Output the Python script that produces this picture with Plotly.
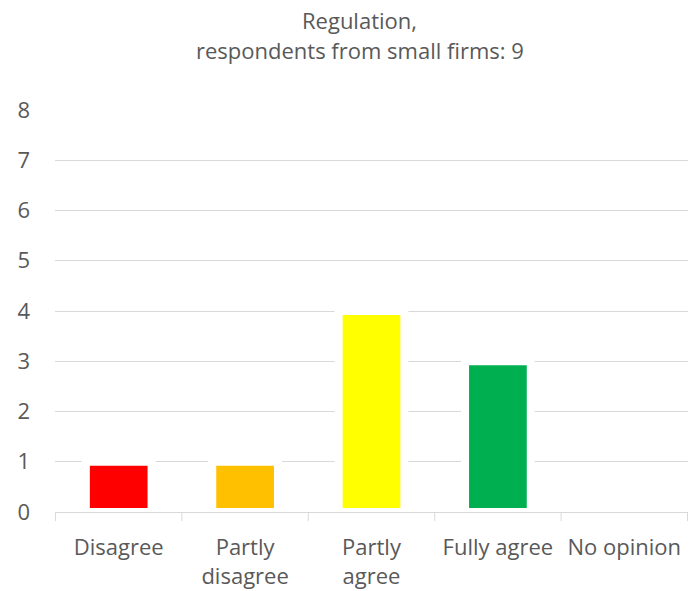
import plotly.graph_objects as go

categories = ["Disagree", "Partly disagree", "Partly agree", "Fully agree", "No opinion"]
tick_labels = ["Disagree", "Partly<br>disagree", "Partly<br>agree", "Fully agree", "No opinion"]
counts = [1, 1, 4, 3, 0]
bar_colors = ["#FF0000", "#FFC000", "#FFFF00", "#00B050", "#7F7F7F"]

title_lines = ["Regulation,", "respondents from small firms: 9"]

FONT = "Open Sans, Liberation Sans, sans-serif"
TEXT = "#595959"
GRID = "#D9D9D9"
FS = 22

Y_MAX = 8.02
PLOT_H = 591 - 109 - 79

fig = go.Figure(
    go.Bar(
        x=categories,
        y=counts,
        marker=dict(color=bar_colors, line=dict(width=8, color="white")),
        width=0.52,
        hoverinfo="x+y",
    )
)

fig.update_layout(
    width=698,
    height=591,
    margin=dict(l=55, r=10, t=109, b=79),
    paper_bgcolor="white",
    plot_bgcolor="white",
    showlegend=False,
    font=dict(family=FONT, size=FS, color=TEXT),
    xaxis=dict(
        tickmode="array",
        tickvals=categories,
        ticktext=tick_labels,
        automargin=False,
        showgrid=False,
        showline=True,
        linecolor=GRID,
        linewidth=1,
        ticks="",
        ticklabelstandoff=16,
        tickfont=dict(size=FS, color=TEXT),
    ),
    yaxis=dict(
        range=[0, Y_MAX],
        tickvals=list(range(0, 9)),
        automargin=False,
        showgrid=True,
        gridcolor=GRID,
        gridwidth=1,
        zeroline=False,
        showline=False,
        ticks="",
        ticklabelstandoff=24,
        tickfont=dict(size=FS, color=TEXT),
    ),
    annotations=[
        dict(text=title_lines[0], xref="paper", yref="paper", x=0.4815, y=1.0 + 89 / PLOT_H,
             xanchor="center", yanchor="middle", showarrow=False, font=dict(size=FS, color=TEXT)),
        dict(text=title_lines[1], xref="paper", yref="paper", x=0.4815, y=1.0 + 59 / PLOT_H,
             xanchor="center", yanchor="middle", showarrow=False, font=dict(size=FS, color=TEXT)),
    ],
)

# category dividers on the category axis (drawn below the axis line)
for i in range(len(categories) + 1):
    fig.add_shape(type="line", xref="x", yref="paper", x0=i - 0.5, x1=i - 0.5,
                  y0=0, y1=-9 / PLOT_H, line=dict(color=GRID, width=1))

fig.write_html("out.html")
